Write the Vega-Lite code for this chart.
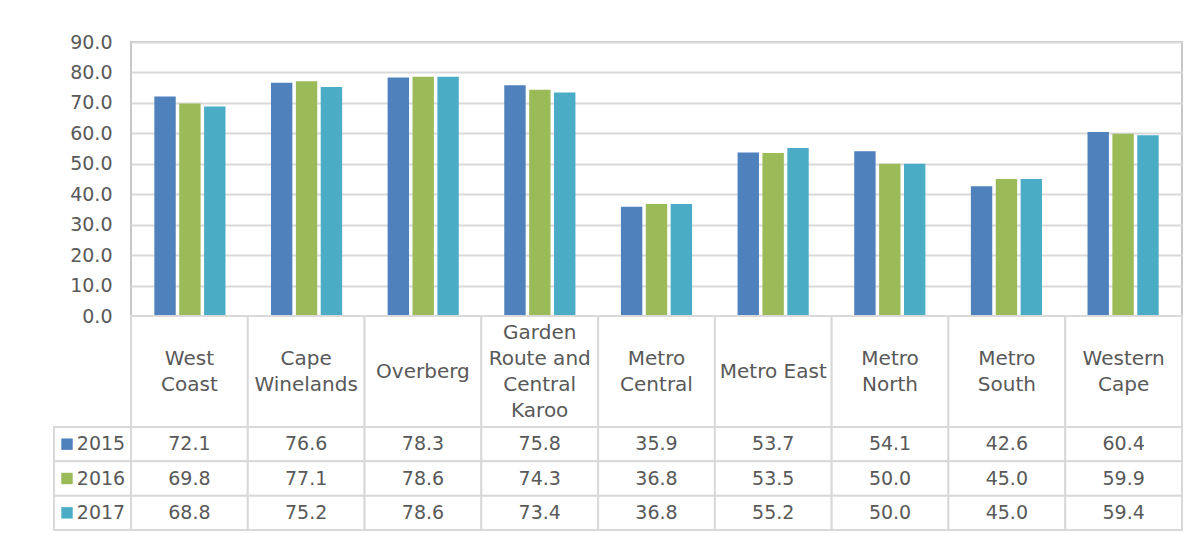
{
  "$schema": "https://vega.github.io/schema/vega-lite/v6.json",
  "background": "white",
  "padding": {"left": 53, "top": 33, "right": 0, "bottom": 0},
  "config": {"font": "DejaVu Sans", "view": {"stroke": null}},
  "datasets": {
    "bars": [
      {"region": "West Coast", "year": "2015", "value": 72.1},
      {"region": "West Coast", "year": "2016", "value": 69.8},
      {"region": "West Coast", "year": "2017", "value": 68.8},
      {"region": "Cape Winelands", "year": "2015", "value": 76.6},
      {"region": "Cape Winelands", "year": "2016", "value": 77.1},
      {"region": "Cape Winelands", "year": "2017", "value": 75.2},
      {"region": "Overberg", "year": "2015", "value": 78.3},
      {"region": "Overberg", "year": "2016", "value": 78.6},
      {"region": "Overberg", "year": "2017", "value": 78.6},
      {"region": "Garden Route and Central Karoo", "year": "2015", "value": 75.8},
      {"region": "Garden Route and Central Karoo", "year": "2016", "value": 74.3},
      {"region": "Garden Route and Central Karoo", "year": "2017", "value": 73.4},
      {"region": "Metro Central", "year": "2015", "value": 35.9},
      {"region": "Metro Central", "year": "2016", "value": 36.8},
      {"region": "Metro Central", "year": "2017", "value": 36.8},
      {"region": "Metro East", "year": "2015", "value": 53.7},
      {"region": "Metro East", "year": "2016", "value": 53.5},
      {"region": "Metro East", "year": "2017", "value": 55.2},
      {"region": "Metro North", "year": "2015", "value": 54.1},
      {"region": "Metro North", "year": "2016", "value": 50.0},
      {"region": "Metro North", "year": "2017", "value": 50.0},
      {"region": "Metro South", "year": "2015", "value": 42.6},
      {"region": "Metro South", "year": "2016", "value": 45.0},
      {"region": "Metro South", "year": "2017", "value": 45.0},
      {"region": "Western Cape", "year": "2015", "value": 60.4},
      {"region": "Western Cape", "year": "2016", "value": 59.9},
      {"region": "Western Cape", "year": "2017", "value": 59.4}
    ],
    "regions": [
      {"region": "West Coast", "label": "West\nCoast"},
      {"region": "Cape Winelands", "label": "Cape\nWinelands"},
      {"region": "Overberg", "label": "Overberg"},
      {"region": "Garden Route and Central Karoo", "label": "Garden\nRoute and\nCentral\nKaroo"},
      {"region": "Metro Central", "label": "Metro\nCentral"},
      {"region": "Metro East", "label": "Metro East"},
      {"region": "Metro North", "label": "Metro\nNorth"},
      {"region": "Metro South", "label": "Metro\nSouth"},
      {"region": "Western Cape", "label": "Western\nCape"}
    ],
    "years": [
      {"year": "2015"},
      {"year": "2016"},
      {"year": "2017"}
    ]
  },
  "columns": 2,
  "spacing": 0,
  "bounds": "flush",
  "concat": [
    {
      "width": 77,
      "height": 274,
      "data": {"name": "bars"},
      "mark": {"type": "point", "opacity": 0},
      "encoding": {
        "y": {
          "field": "value",
          "type": "quantitative",
          "scale": {"domain": [0, 90], "nice": false},
          "axis": {
            "orient": "left",
            "offset": -77,
            "values": [0, 10, 20, 30, 40, 50, 60, 70, 80, 90],
            "format": ".1f",
            "labelFontSize": 19,
            "labelColor": "#595959",
            "labelPadding": 19,
            "ticks": false,
            "domain": false,
            "grid": false,
            "title": null
          }
        }
      }
    },
    {
      "width": 1051,
      "height": 274,
      "data": {"name": "bars"},
      "view": {"stroke": "#c8c8c8", "strokeWidth": 2},
      "mark": {"type": "bar"},
      "encoding": {
        "x": {
          "field": "region",
          "type": "nominal",
          "sort": null,
          "scale": {"paddingInner": 0.39, "paddingOuter": 0.2},
          "axis": null
        },
        "xOffset": {
          "field": "year",
          "type": "nominal",
          "scale": {"paddingInner": 0.14}
        },
        "y": {
          "field": "value",
          "type": "quantitative",
          "scale": {"domain": [0, 90], "nice": false},
          "axis": {
            "values": [0, 10, 20, 30, 40, 50, 60, 70, 80, 90],
            "labels": false,
            "ticks": false,
            "domain": false,
            "grid": true,
            "gridColor": "#d9d9d9",
            "gridWidth": 2,
            "title": null
          }
        },
        "color": {
          "field": "year",
          "type": "nominal",
          "scale": {"domain": ["2015", "2016", "2017"], "range": ["#4f81bd", "#9bbb59", "#4bacc6"]},
          "legend": null
        }
      }
    },
    {
      "width": 77,
      "height": 111,
      "data": {"values": []},
      "mark": "text",
      "encoding": {}
    },
    {
      "width": 1051,
      "height": 111,
      "data": {"name": "regions"},
      "layer": [
        {
          "mark": {"type": "rect", "fill": "white", "stroke": "#d9d9d9", "strokeWidth": 2},
          "encoding": {
            "x": {"field": "region", "type": "nominal", "sort": null, "scale": {"paddingInner": 0, "paddingOuter": 0}, "axis": null}
          }
        },
        {
          "mark": {
            "type": "text",
            "lineBreak": "\n",
            "fontSize": 20,
            "lineHeight": 26,
            "color": "#595959",
            "baseline": "middle",
            "dy": {"expr": "-(length(split(datum.label, '\\n')) - 1) * 13"}
          },
          "encoding": {
            "x": {"field": "region", "type": "nominal", "sort": null, "axis": null},
            "text": {"field": "label"}
          }
        }
      ]
    },
    {
      "width": 77,
      "height": 103,
      "data": {"name": "years"},
      "layer": [
        {
          "mark": {"type": "rect", "fill": "white", "stroke": "#d9d9d9", "strokeWidth": 2},
          "encoding": {
            "y": {"field": "year", "type": "nominal", "scale": {"paddingInner": 0, "paddingOuter": 0}, "axis": null}
          }
        },
        {
          "mark": {"type": "point", "shape": "square", "filled": true, "opacity": 1, "size": 130, "xOffset": -25.5},
          "encoding": {
            "y": {"field": "year", "type": "nominal", "axis": null},
            "color": {
              "field": "year",
              "type": "nominal",
              "scale": {"domain": ["2015", "2016", "2017"], "range": ["#4f81bd", "#9bbb59", "#4bacc6"]},
              "legend": null
            }
          }
        },
        {
          "mark": {"type": "text", "fontSize": 19, "color": "#595959", "baseline": "middle", "dx": 8.5},
          "encoding": {
            "y": {"field": "year", "type": "nominal", "axis": null},
            "text": {"field": "year"}
          }
        }
      ]
    },
    {
      "width": 1051,
      "height": 103,
      "data": {"name": "bars"},
      "layer": [
        {
          "mark": {"type": "rect", "fill": "white", "stroke": "#d9d9d9", "strokeWidth": 2},
          "encoding": {
            "x": {"field": "region", "type": "nominal", "sort": null, "scale": {"paddingInner": 0, "paddingOuter": 0}, "axis": null},
            "y": {"field": "year", "type": "nominal", "scale": {"paddingInner": 0, "paddingOuter": 0}, "axis": null}
          }
        },
        {
          "mark": {"type": "text", "fontSize": 19, "color": "#595959", "baseline": "middle"},
          "encoding": {
            "x": {"field": "region", "type": "nominal", "sort": null, "axis": null},
            "y": {"field": "year", "type": "nominal", "axis": null},
            "text": {"field": "value", "type": "quantitative", "format": ".1f"}
          }
        }
      ]
    }
  ]
}
